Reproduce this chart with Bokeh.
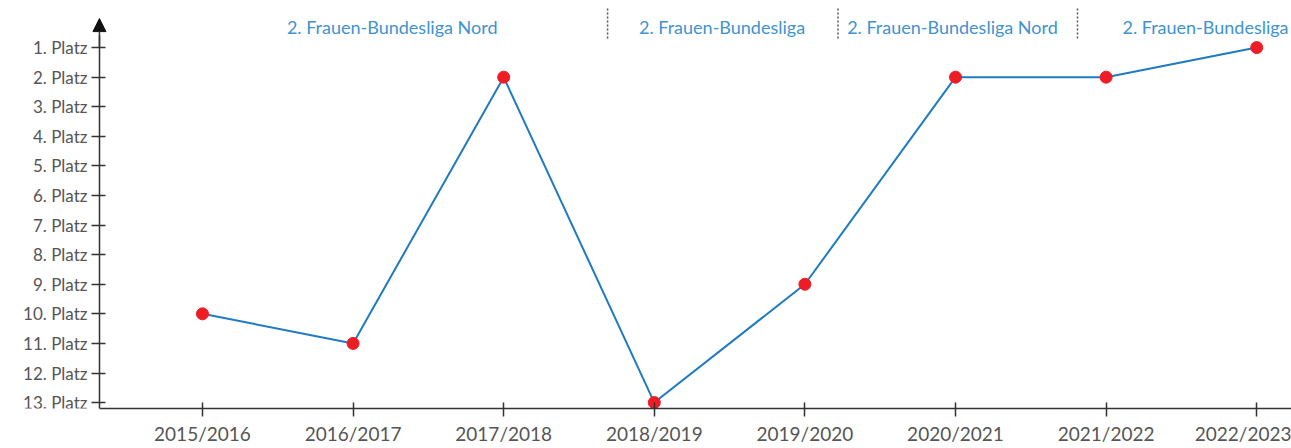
from bokeh.plotting import figure
from bokeh.models import Range1d, FixedTicker, Arrow, NormalHead, ColumnDataSource
from bokeh.core.properties import value
from bokeh.embed import file_html
from bokeh.resources import INLINE

seasons = ["2015/2016", "2016/2017", "2017/2018", "2018/2019",
           "2019/2020", "2020/2021", "2021/2022", "2022/2023"]
platz = [10, 11, 2, 13, 9, 2, 2, 1]
ranks = list(range(1, 14))
rank_labels = [f"{r}. Platz" for r in ranks]

league_names = ["2. Frauen-Bundesliga Nord", "2. Frauen-Bundesliga",
                "2. Frauen-Bundesliga Nord", "2. Frauen-Bundesliga"]
league_centers = [1.26, 3.45, 4.98, 6.66]
separators = [2.69, 4.22, 5.81]

FONT = "Lato"
GREY = "#555555"

axis_x = -0.684          # data x where the vertical axis sits
x0, x1 = -1.341, 7.231
y_bottom, y_top = 13.2, -0.592

p = figure(width=1291, height=448, output_backend="svg", toolbar_location=None,
           x_range=Range1d(x0, x1), y_range=Range1d(y_bottom, y_top),
           min_border_left=0, min_border_right=0, min_border_top=0, min_border_bottom=40)
p.outline_line_color = None
p.grid.visible = False
p.background_fill_color = "white"

# axes
p.yaxis.ticker = FixedTicker(ticks=ranks)
p.yaxis.major_label_overrides = {r: l for r, l in zip(ranks, rank_labels)}
p.yaxis.fixed_location = axis_x
p.xaxis.ticker = FixedTicker(ticks=list(range(len(seasons))))
p.xaxis.major_label_overrides = {i: s for i, s in enumerate(seasons)}
for ax in (p.xaxis, p.yaxis):
    ax.axis_line_color = "#333333"
    ax.axis_line_width = 1.5
    ax.major_tick_line_color = "#333333"
    ax.major_tick_line_width = 1.5
    ax.major_tick_in = 6
    ax.major_tick_out = 8
    ax.minor_tick_line_color = None
    ax.major_label_text_font = FONT
    ax.major_label_text_color = GREY
p.yaxis.major_label_text_font_size = "17px"
p.yaxis.major_label_standoff = 4
p.xaxis.major_label_text_font_size = "19px"
p.xaxis.major_label_standoff = 5
p.yaxis.bounds = (y_bottom, 0.6)
p.xaxis.bounds = (axis_x, x1)

p.add_layout(Arrow(end=NormalHead(size=13, fill_color="#111111", line_color="#111111"),
                   x_start=axis_x, y_start=1.0, x_end=axis_x, y_end=0.02,
                   line_color="#333333", line_width=1.5))

src = ColumnDataSource(dict(x=list(range(len(seasons))), y=platz))
p.line("x", "y", source=src, line_color="#1f7bc1", line_width=2)
p.scatter("x", "y", source=src, size=12, fill_color="#ee1c25", line_color="#ee1c25")

# league labels
p.text(x=league_centers, y=[0.29] * len(league_centers), text=league_names,
       text_font=value(FONT), text_font_size="18px", text_color="#3f93d0",
       text_align="center", text_baseline="middle")
p.segment(x0=separators, x1=separators, y0=[-0.318] * 3, y1=[0.763] * 3,
          line_color="#555555", line_width=1.5, line_dash="2 2")

open("out.html", "w").write(file_html(p, INLINE))
